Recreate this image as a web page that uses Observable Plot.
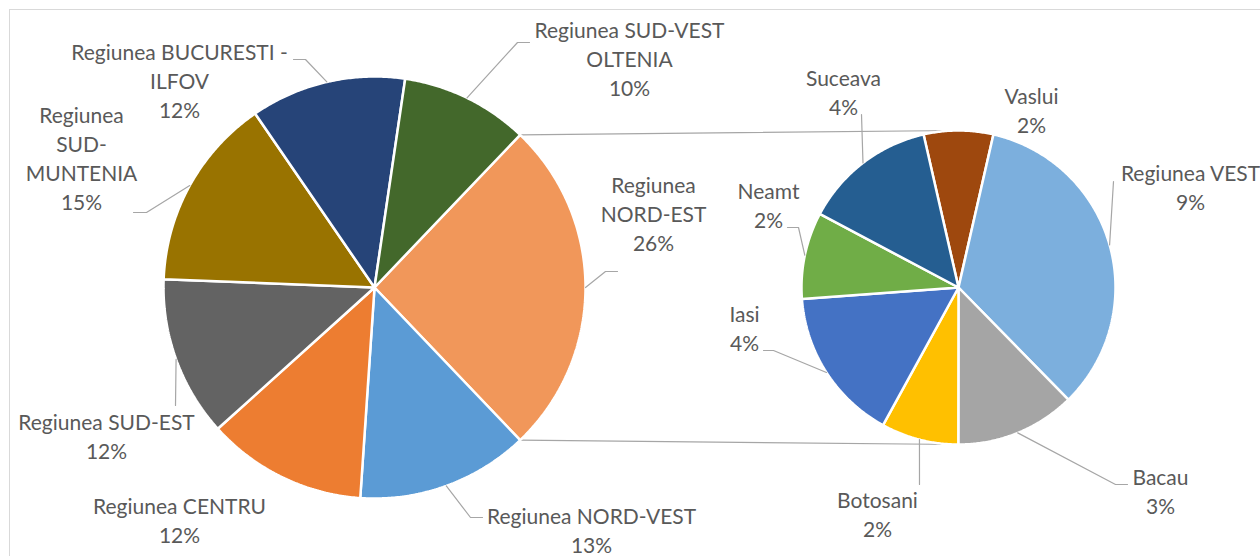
<!DOCTYPE html>
<html><head><meta charset="utf-8">
<script src="https://cdn.jsdelivr.net/npm/d3@7"></script>
<script src="https://cdn.jsdelivr.net/npm/@observablehq/plot@0.6"></script>
<style>
html,body{margin:0;padding:0;background:#fff;overflow:hidden}
#wrap{position:relative;width:1260px;height:556px;overflow:hidden}
#chart{position:absolute;left:0;top:0}
#frame{position:absolute;left:9px;top:9px;width:1300px;height:600px;border-left:1px solid #d9d9d9;border-top:1px solid #d9d9d9;box-sizing:border-box;pointer-events:none}
</style></head><body>
<div id="wrap"><div id="chart"></div><div id="frame"></div></div>
<script>
// ---- data (percent of total) ----
const mainNames = ["Regiunea NORD-EST", "Regiunea NORD-VEST", "Regiunea CENTRU", "Regiunea SUD-EST",
  "Regiunea SUD-MUNTENIA", "Regiunea BUCURESTI - ILFOV", "Regiunea SUD-VEST OLTENIA"];
const mainValues = [25.75, 13.2, 12.25, 12.3, 14.8, 11.9, 9.8];
const subNames = ["Vaslui", "Regiunea VEST", "Bacau", "Botosani", "Iasi", "Neamt", "Suceava"];
const subValues = [1.84, 8.78, 3.18, 2.05, 4.08, 2.30, 3.52];

// ---- styles ----
const mainColors = ["#F1975A", "#5B9BD5", "#ED7D31", "#636363", "#997300", "#264478", "#43682B"];
const subColors = ["#9E480E", "#7CAFDD", "#A5A5A5", "#FFC000", "#4472C4", "#70AD47", "#255E91"];

// ---- layout ----
const W = 1260, H = 556;
const mainPie = {cx: 374, cy: 287, r: 211};
const subPie = {cx: 958, cy: 287, r: 157};
const LH = 29.3;
const labelLayout = {
  "Regiunea NORD-EST": {x: 653, y: 192, lines: ["Regiunea", "NORD-EST"], leader: [[617, 271], [605, 271]]},
  "Regiunea NORD-VEST": {x: 591, y: 523, lines: ["Regiunea NORD-VEST"], leader: [[482, 517], [470, 517]]},
  "Regiunea CENTRU": {x: 179, y: 513, lines: ["Regiunea CENTRU"], leader: null},
  "Regiunea SUD-EST": {x: 106, y: 429, lines: ["Regiunea SUD-EST"], leader: [[175, 405]]},
  "Regiunea SUD-MUNTENIA": {x: 81, y: 122, lines: ["Regiunea", "SUD-", "MUNTENIA"], leader: [[133, 212], [146, 212]]},
  "Regiunea BUCURESTI - ILFOV": {x: 179, y: 59, lines: ["Regiunea BUCURESTI -", "ILFOV"], leader: [[293, 59], [305, 59]]},
  "Regiunea SUD-VEST OLTENIA": {x: 629, y: 37, lines: ["Regiunea SUD-VEST", "OLTENIA"], leader: [[529, 42], [517, 42]]},
  "Vaslui": {x: 1031, y: 103, lines: ["Vaslui"], leader: null},
  "Regiunea VEST": {x: 1190, y: 180, lines: ["Regiunea VEST"], leader: [[1113, 181]]},
  "Bacau": {x: 1160, y: 484, lines: ["Bacau"], leader: [[1127, 484], [1115, 484]]},
  "Botosani": {x: 877, y: 507, lines: ["Botosani"], leader: [[919, 484]]},
  "Iasi": {x: 744, y: 321, lines: ["Iasi"], leader: [[763, 350], [773, 350]]},
  "Neamt": {x: 768, y: 198, lines: ["Neamt"], leader: [[787, 227], [798, 227]]},
  "Suceava": {x: 843, y: 85, lines: ["Suceava"], leader: [[861, 114]]}
};

const rad = d => d * Math.PI / 180;
const pt = (p, a, r = p.r) => ({x: p.cx + r * Math.sin(rad(a)), y: p.cy - r * Math.cos(rad(a))});

function layoutPie(names, values, pie, start) {
  const total = d3.sum(values);
  let a = start;
  return names.map((name, i) => {
    const span = values[i] / total * 360;
    const s = {name, value: values[i], a0: a, a1: a + span, mid: a + span / 2, pie};
    a += span;
    return s;
  });
}

const mainTotal = d3.sum(mainValues);
const mainSlices = layoutPie(mainNames, mainValues, mainPie, 90 - mainValues[0] / mainTotal * 180);
const subSlices = layoutPie(subNames, subValues, subPie, -subValues[0] / d3.sum(subValues) * 180);
const allSlices = [...mainSlices, ...subSlices];

// polygon points for each slice
const slicePts = [];
for (const s of allSlices) {
  slicePts.push({name: s.name, ...pt(s.pie, 0, 0)});
  const n = Math.max(2, Math.ceil((s.a1 - s.a0) / 0.5));
  for (let k = 0; k <= n; ++k) slicePts.push({name: s.name, ...pt(s.pie, s.a0 + (s.a1 - s.a0) * k / n)});
}

// connector lines between the pies
const other = mainSlices[0];
const connectors = [
  {id: "top", ...pt(mainPie, other.a0)}, {id: "top", ...pt(subPie, 0)},
  {id: "bottom", ...pt(mainPie, other.a1)}, {id: "bottom", ...pt(subPie, 180)}
];

// leader lines and labels
const leaderPts = [];
const labelRows = [];
for (const s of allSlices) {
  const L = labelLayout[s.name];
  const lines = [...L.lines, Math.round(s.value) + "%"];
  lines.forEach((t, i) => labelRows.push({text: t, x: L.x, y: L.y + i * LH}));
  if (L.leader) {
    L.leader.forEach(([x, y]) => leaderPts.push({name: s.name, x, y}));
    leaderPts.push({name: s.name, ...pt(s.pie, s.mid)});
  }
}

const chart = Plot.plot({
  width: W, height: H, margin: 0,
  style: {background: "transparent", overflow: "visible"},
  x: {domain: [0, W], range: [0, W], axis: null},
  y: {domain: [0, H], range: [0, H], axis: null},
  color: {type: "ordinal", domain: [...mainNames, ...subNames], range: [...mainColors, ...subColors]},
  marks: [
    Plot.line(connectors, {x: "x", y: "y", z: "id", stroke: "#a6a6a6", strokeWidth: 1.2}),
    Plot.line(slicePts, {x: "x", y: "y", z: "name", fill: "name", stroke: "white", strokeWidth: 2.5,
      curve: "linear-closed", strokeLinejoin: "miter"}),
    Plot.line(leaderPts, {x: "x", y: "y", z: "name", stroke: "#a6a6a6", strokeWidth: 1.2, strokeLinejoin: "miter"}),
    Plot.text(labelRows, {x: "x", y: "y", text: "text", fill: "#595959", fontSize: 21,
      fontFamily: "Lato", fontWeight: 400, lineAnchor: "bottom", textAnchor: "middle"})
  ]
});
document.getElementById("chart").appendChild(chart);
</script>
</body></html>
